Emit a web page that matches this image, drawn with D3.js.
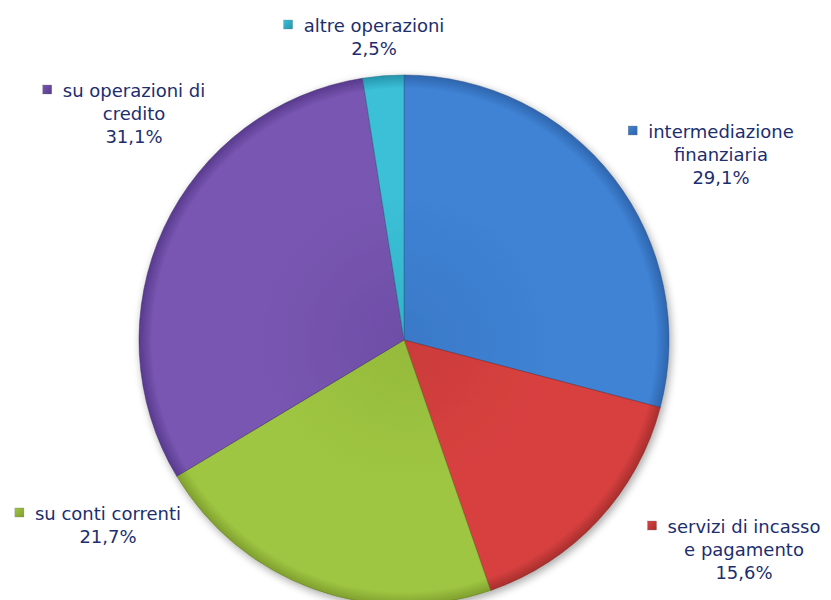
<!DOCTYPE html>
<html>
<head>
<meta charset="utf-8">
<script src="https://cdn.jsdelivr.net/npm/d3@7/dist/d3.min.js"></script>
<style>
html,body{margin:0;padding:0;background:#fff;}
svg{display:block;}
</style>
</head>
<body>
<svg id="chart" width="831" height="600"></svg>
<script>
const categories = ["intermediazione finanziaria","servizi di incasso e pagamento","su conti correnti","su operazioni di credito","altre operazioni"];
const values = [29.1, 15.6, 21.7, 31.1, 2.5];
const valueLabels = ["29,1%","15,6%","21,7%","31,1%","2,5%"];
const labelLines = [["intermediazione","finanziaria"],["servizi di incasso","e pagamento"],["su conti correnti"],["su operazioni di","credito"],["altre operazioni"]];
const colors = ["#3f82d4","#d8413f","#9fc642","#7856b1","#3bc0d7"];
const darkColors = ["#2e65ad","#a82e2d","#7f9f2e","#583a8e","#2595ad"];

const W = 831, H = 600;
const cx = 404, cy = 340, R = 265;
const svg = d3.select("#chart");
const defs = svg.append("defs");

const f = defs.append("filter").attr("id","shadow").attr("x","-20%").attr("y","-20%").attr("width","140%").attr("height","140%");
f.append("feGaussianBlur").attr("in","SourceAlpha").attr("stdDeviation",4).attr("result","b");
f.append("feOffset").attr("in","b").attr("dx",2).attr("dy",3).attr("result","o");
f.append("feComponentTransfer").attr("in","o").attr("result","o2").append("feFuncA").attr("type","linear").attr("slope",0.35);
const m = f.append("feMerge");
m.append("feMergeNode").attr("in","o2");
m.append("feMergeNode").attr("in","SourceGraphic");

colors.forEach((c,i)=>{
  const g = defs.append("radialGradient").attr("id","g"+i).attr("gradientUnits","userSpaceOnUse")
    .attr("cx",0).attr("cy",0).attr("r",R);
  g.append("stop").attr("offset","0%").attr("stop-color",d3.interpolateRgb(colors[i],darkColors[i])(0.3));
  g.append("stop").attr("offset","55%").attr("stop-color",colors[i]);
  g.append("stop").attr("offset","95%").attr("stop-color",colors[i]);
  g.append("stop").attr("offset","100%").attr("stop-color",darkColors[i]);
  const lg = defs.append("linearGradient").attr("id","m"+i).attr("x1","0").attr("y1","0").attr("x2","1").attr("y2","1");
  lg.append("stop").attr("offset","0%").attr("stop-color",colors[i]);
  lg.append("stop").attr("offset","100%").attr("stop-color",darkColors[i]);
});

const pie = d3.pie().sort(null).value(d=>d).startAngle(0).endAngle(2*Math.PI);
const arcs = pie(values);
const arc = d3.arc().innerRadius(0).outerRadius(R);

const g = svg.append("g").attr("transform",`translate(${cx},${cy})`).attr("filter","url(#shadow)");
g.selectAll("path").data(arcs).join("path")
  .attr("d",arc)
  .attr("fill",(d,i)=>`url(#g${i})`)
  .attr("stroke",(d,i)=>d3.color(darkColors[i]).darker(0.8))
  .attr("stroke-width",1)
  .attr("stroke-opacity",0.5);

// label layout: center x and first baseline for each category
const labelPos = [
  {x:721, y:138},
  {x:744, y:533},
  {x:108, y:520},
  {x:134, y:97},
  {x:374, y:32}
];
const lineH = 23;
const fontSize = 18;
const lab = svg.append("g").attr("font-family","DejaVu Sans, Verdana, sans-serif").attr("font-size",fontSize).attr("fill","#1c2e6e");
labelLines.forEach((lines,i)=>{
  const p = labelPos[i];
  const all = lines.concat([valueLabels[i]]);
  let first;
  all.forEach((t,k)=>{
    const txt = lab.append("text").attr("x",p.x).attr("y",p.y+k*lineH).attr("text-anchor","middle").text(t);
    if(k===0) first = txt;
  });
  const bb = first.node().getBBox();
  lab.append("rect").attr("x",bb.x-20).attr("y",p.y-12).attr("width",9).attr("height",9)
    .attr("fill",`url(#m${i})`).attr("stroke","#777").attr("stroke-width",0.3);
});
</script>
</body>
</html>
